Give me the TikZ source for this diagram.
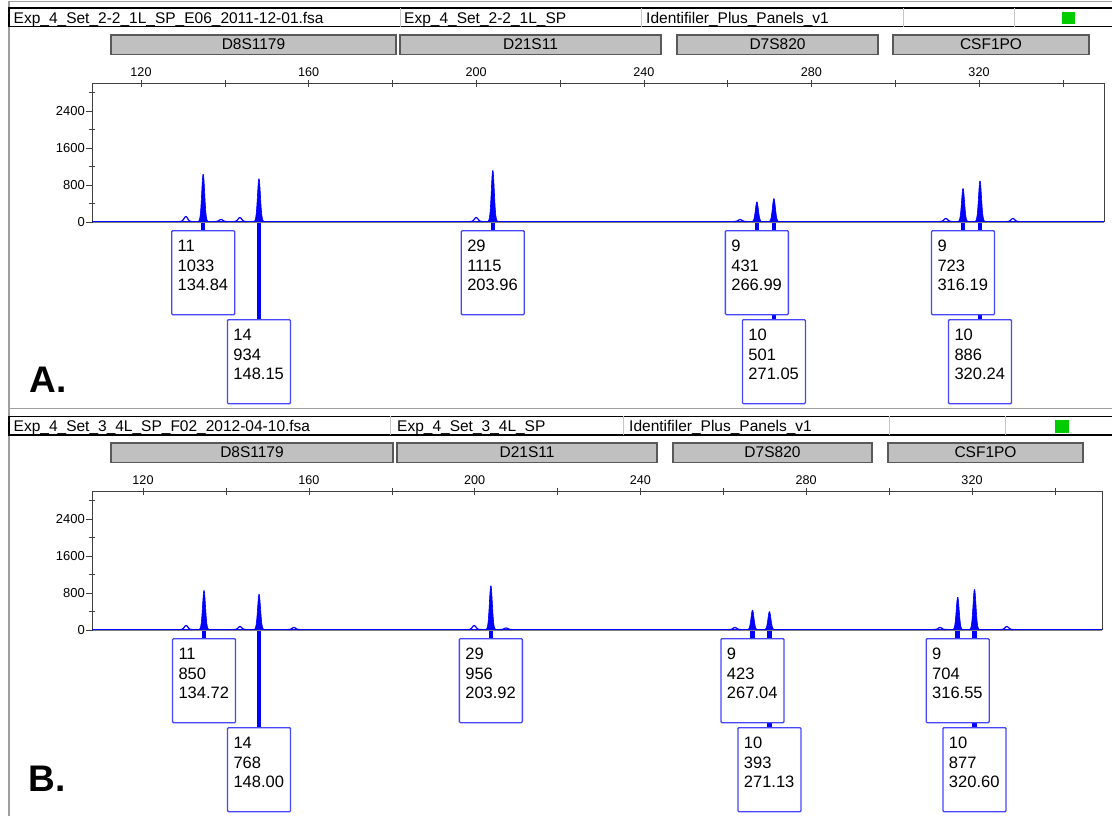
\documentclass[tikz,border=0pt]{standalone}
\usepackage{fontspec}
\setmainfont{Liberation Sans}
\usetikzlibrary{backgrounds}
\definecolor{tracecol}{RGB}{0,0,255}
\definecolor{boxcol}{RGB}{70,70,255}
\definecolor{barfill}{RGB}{192,192,192}
\definecolor{okgreen}{RGB}{0,204,0}

\begin{document}
\begin{tikzpicture}[x=1pt, y=-1pt,
  frame/.style={draw=gray!75, line width=1.5pt},
  hdr/.style={anchor=base west, inner sep=0pt, font=\fontsize{15.5}{18}\selectfont},
  locus/.style={draw=black!65, fill=barfill, line width=1.2pt, minimum height=19.3pt, inner sep=0pt, font=\fontsize{15.5}{18}\selectfont},
  xlab/.style={inner sep=0pt, font=\fontsize{12.6}{14}\selectfont},
  ylab/.style={inner sep=0pt, anchor=east, font=\fontsize{13}{15}\selectfont},
  callout/.style={draw=boxcol, fill=white, line width=1.3pt, rounded corners=1pt, anchor=north, align=left, text width=51pt, inner xsep=6pt, inner ysep=0pt, text height=21pt, text depth=63pt, font=\fontsize{16.5}{19.5}\selectfont},
  stem/.style={draw=tracecol, line width=4.5pt},
  trace/.style={draw=tracecol, line width=1.6pt},
  panel/.style={inner sep=0pt, font=\bfseries\fontsize{37}{40}\selectfont}]
\useasboundingbox (0,0) rectangle (1112,816);

% panel A
\draw[frame] (1112,1.7) -- (9,1.7) -- (9,408.3) -- (1112,408.3);
\draw[line width=1.6pt] (1112,8.3) -- (9,8.3) -- (9,26.7) -- (1112,26.7);
\foreach \d in {400,641,903,1014}{\draw[gray!45] (\d,8.3) -- (\d,26.7);}
\node[hdr] (hA1) at (13.5,23.3) {Exp\_4\_Set\_2-2\_1L\_SP\_E06\_2011-12-01.fsa};
\node[hdr] (hA2) at (404,23.3) {Exp\_4\_Set\_2-2\_1L\_SP};
\node[hdr] (hA3) at (646,23.3) {Identifiler\_Plus\_Panels\_v1};
\fill[okgreen] (1062,11.7) rectangle (1075,24.3);
\node[locus, minimum width=285pt] (D8A) at (253.5,44.65) {D8S1179};
\node[locus, minimum width=261pt] (D21A) at (530.5,44.65) {D21S11};
\node[locus, minimum width=201pt] (D7A) at (777.5,44.65) {D7S820};
\node[locus, minimum width=196pt] (CSFA) at (991,44.65) {CSF1PO};
\draw[black!75, line width=0.8pt] (92,222) -- (92,83.3) -- (1104,83.3) -- (1104,222);
\draw[gray, line width=1pt] (92,222.5) -- (1104,222.5);
\foreach \r in {0,800,1600,2400}{
\draw[black!75] (86,{222-\r*0.04625}) -- (93,{222-\r*0.04625});
\node[ylab] (yA\r) at (85,{222-\r*0.04625}) {\r};
}
\foreach \r in {400,1200,2000,2800}{\draw[black!75] (89,{222-\r*0.04625}) -- (95,{222-\r*0.04625});}
\node[panel] (labA) at (48.5,380) {A.};
\begin{scope}[x=4.19pt, xshift=-361.8pt]
\foreach \t in {120,140,...,340}{\draw[black!75] (\t,80) -- (\t,87);}
\foreach \t in {120,160,...,320}{\node[xlab] (xA\t) at (\t,71.7) {\t};}
\draw[trace] (108.3,221.5) -- (349.8,221.5);
\foreach \bp/\hh in {130.7/5,139.1/2,143.6/4,200.0/4,263.0/2,312.1/3,328.1/3}{
\draw[trace, line width=1.2pt] plot[smooth,samples=15,domain=-1.5:1.5] ({\bp+\x},{221.5-\hh*exp(-(\x/0.6)^2)});
}
\foreach \bp/\rfu in {134.84/1033,148.15/934,203.96/1115,266.99/431,271.05/501,316.19/723,320.24/886}{
\filldraw[tracecol, line width=0.6pt] plot[smooth,samples=30,domain=-1.8:1.8] ({\bp+\x},{221.5-\rfu*0.04625*exp(-(\x/0.5)^2)}) -- cycle;
}
\foreach \bp/\allele/\rfu/\row/\nm in {134.84/11/1033/230/a,148.15/14/934/319/b,203.96/29/1115/230/c,266.99/9/431/230/d,271.05/10/501/319/e,316.19/9/723/230/f,320.24/10/886/319/g}{
\coordinate (pA\nm) at (\bp,222);
\node[callout] (cA\nm) at (\bp,\row) {\allele\\\rfu\\\bp};
\begin{pgfonlayer}{background}
\draw[stem] (pA\nm) -- (cA\nm.north);
\end{pgfonlayer}
}
\end{scope}

% panel B
\begin{scope}[shift={(0,408)}]
\draw[frame] (9,0.3) -- (9,420);
\draw[line width=1.6pt] (1112,8.3) -- (9,8.3) -- (9,26.7) -- (1112,26.7);
\foreach \d in {390,623,889,1005}{\draw[gray!45] (\d,8.3) -- (\d,26.7);}
\node[hdr] (hB1) at (13.5,23.3) {Exp\_4\_Set\_3\_4L\_SP\_F02\_2012-04-10.fsa};
\node[hdr] (hB2) at (397,23.3) {Exp\_4\_Set\_3\_4L\_SP};
\node[hdr] (hB3) at (629,23.3) {Identifiler\_Plus\_Panels\_v1};
\fill[okgreen] (1055,11.5) rectangle (1069,24.5);
\node[locus, minimum width=282pt] (D8B) at (252,44.65) {D8S1179};
\node[locus, minimum width=260pt] (D21B) at (527,44.65) {D21S11};
\node[locus, minimum width=199pt] (D7B) at (772.5,44.65) {D7S820};
\node[locus, minimum width=195pt] (CSFB) at (985.5,44.65) {CSF1PO};
\draw[black!75, line width=0.8pt] (92,222) -- (92,83.3) -- (1102,83.3) -- (1102,222);
\draw[gray, line width=1pt] (92,222.5) -- (1102,222.5);
\foreach \r in {0,800,1600,2400}{
\draw[black!75] (86,{222-\r*0.04625}) -- (93,{222-\r*0.04625});
\node[ylab] (yB\r) at (85,{222-\r*0.04625}) {\r};
}
\foreach \r in {400,1200,2000,2800}{\draw[black!75] (89,{222-\r*0.04625}) -- (95,{222-\r*0.04625});}
\node[panel] (labB) at (47,371) {B.};
\begin{scope}[x=4.145pt, xshift=-354.4pt]
\foreach \t in {120,140,...,340}{\draw[black!75] (\t,80) -- (\t,87);}
\foreach \t in {120,160,...,320}{\node[xlab] (xB\t) at (\t,71.7) {\t};}
\draw[trace] (107.7,221.5) -- (351.4,221.5);
\foreach \bp/\hh in {130.4/4,143.4/3,156.4/2,199.9/4,207.6/1.5,262.8/2,312.3/2,328.4/3}{
\draw[trace, line width=1.2pt] plot[smooth,samples=15,domain=-1.5:1.5] ({\bp+\x},{221.5-\hh*exp(-(\x/0.6)^2)});
}
\foreach \bp/\rfu in {134.72/850,148.00/768,203.92/956,267.04/423,271.13/393,316.55/704,320.60/877}{
\filldraw[tracecol, line width=0.6pt] plot[smooth,samples=30,domain=-1.8:1.8] ({\bp+\x},{221.5-\rfu*0.04625*exp(-(\x/0.5)^2)}) -- cycle;
}
\foreach \bp/\allele/\rfu/\row/\nm in {134.72/11/850/230/a,148.00/14/768/319/b,203.92/29/956/230/c,267.04/9/423/230/d,271.13/10/393/319/e,316.55/9/704/230/f,320.60/10/877/319/g}{
\coordinate (pB\nm) at (\bp,222);
\node[callout] (cB\nm) at (\bp,\row) {\allele\\\rfu\\\bp};
\begin{pgfonlayer}{background}
\draw[stem] (pB\nm) -- (cB\nm.north);
\end{pgfonlayer}
}
\end{scope}
\end{scope}
\end{tikzpicture}
\end{document}
